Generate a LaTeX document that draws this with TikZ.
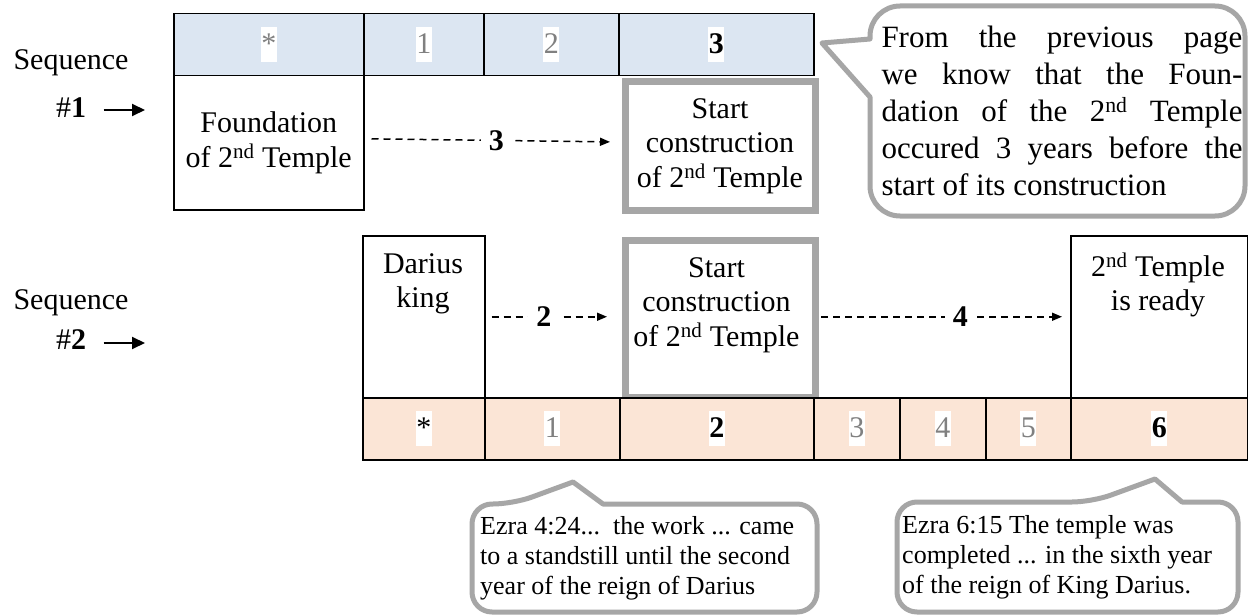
\documentclass[tikz,border=0pt]{standalone}
\usepackage{fontspec}
\setmainfont{Liberation Serif}
\usetikzlibrary{arrows.meta}
\definecolor{hdrblue}{HTML}{DCE6F2}
\definecolor{hdrpeach}{HTML}{FBE5D6}
\definecolor{boxgray}{HTML}{A6A6A6}
\definecolor{numgray}{HTML}{808080}
\newcommand\mfont{\fontsize{30}{34.5}\selectfont}
\newcommand\cfont{\fontsize{31}{37}\selectfont}
\newcommand\sfont{\fontsize{26}{30}\selectfont}
\tikzset{
  tcell/.style={draw=black, line width=1.5pt, fill=hdrblue, inner sep=0pt, anchor=north west},
  bcell/.style={draw=black, line width=1.5pt, fill=hdrpeach, inner sep=0pt, anchor=north west},
  num/.style={fill=white, inner xsep=0.5pt, inner ysep=1pt, text height=25pt, text depth=8pt, font=\mfont},
  numg/.style={num, text=numgray},
  numk/.style={num, text=black},
  numb/.style={num, font=\mfont\bfseries},
  wbox/.style={draw=black, line width=1.5pt, fill=white, inner sep=0pt, anchor=north west},
  gbox/.style={draw=boxgray, line width=7pt, fill=white, inner sep=0pt, anchor=north west},
  txt/.style={align=center, font=\mfont, inner sep=0pt},
  darr/.style={dash pattern=on 7pt off 5pt, line width=1.5pt, -{Triangle[length=10pt,width=8pt]}},
  glbl/.style={fill=white, inner xsep=8pt, inner ysep=3pt, font=\mfont\bfseries},
  seqarr/.style={line width=2pt, -{Triangle[length=13pt,width=12pt]}},
  callout/.style={draw=boxgray, line width=5pt, fill=white, line join=round},
}
\begin{document}
\begin{tikzpicture}[x=1pt,y=-1pt]
\useasboundingbox (0,0) rectangle (1248,615);
\clip (0,0) rectangle (1248,615);
\fill[white] (0,0) rectangle (1248,615);

% sequence labels
\node[font=\mfont] (sq1) at (71,63) {Sequence};
\node[font=\mfont] (n1) at (71,108) {\#\textbf{1}};
\coordinate (a1) at (145,110);
\draw[seqarr, shorten <=14pt] (n1.east |- a1) -- (a1);
\node[font=\mfont] (sq2) at (71,303) {Sequence};
\node[font=\mfont] (n2) at (71,340) {\#\textbf{2}};
\coordinate (a2) at (145,343);
\draw[seqarr, shorten <=14pt] (n2.east |- a2) -- (a2);

% sequence 1 boxes
\node[wbox, minimum width=190pt, minimum height=134pt] (found) at (173,75) {};
\node[txt] at (found.center) {Foundation\\of 2\textsuperscript{nd} Temple};
\node[gbox, minimum width=190pt, minimum height=128pt] (sc1) at (621.5,78.5) {};
\node[txt] at (sc1.center) {Start\\construction\\of 2\textsuperscript{nd} Temple};

% top table
\node[tcell, minimum width=190pt, minimum height=62pt] (t0) at (173,13) {};
\node[tcell, minimum width=120pt, minimum height=62pt] (t1) at (363,13) {};
\node[tcell, minimum width=135pt, minimum height=62pt] (t2) at (483,13) {};
\node[tcell, minimum width=195pt, minimum height=62pt] (t3) at (618,13) {};
\node[numg] at (t0.center) {*};
\node[numg] at (t1.center) {1};
\node[numg] at (t2.center) {2};
\node[numb] at (t3.center) {3};

\draw[darr, shorten <=7pt, shorten >=8pt] ([yshift=4pt]found.east) -- node[glbl, pos=0.52] {3} ([yshift=4pt]sc1.west -| 618,0);

% sequence 2 boxes
\node[wbox, minimum width=122pt, minimum height=162pt] (dar) at (362,235) {};
\node[txt] at (423,284) {Darius\\king};
\node[gbox, minimum width=190pt, minimum height=157pt] (sc2) at (621.5,236.5) {};
\node[txt] at (716.5,305) {Start\\construction\\of 2\textsuperscript{nd} Temple};
\node[wbox, minimum width=177pt, minimum height=162pt] (rdy) at (1070,235) {};
\node[txt] at (1158,285) {2\textsuperscript{nd} Temple\\is ready};

\draw[darr, shorten <=6pt, shorten >=11pt] (dar.east) -- node[glbl, pos=0.44] {2} (dar.east -| 618,0);
\draw[darr, shorten <=6pt, shorten >=8pt] (dar.east -| 815,0) -- node[glbl, pos=0.57] {4} (rdy.west);

% bottom table
\node[bcell, minimum width=122pt, minimum height=62pt] (b0) at (362,397) {};
\node[bcell, minimum width=135pt, minimum height=62pt] (b1) at (484,397) {};
\node[bcell, minimum width=194pt, minimum height=62pt] (b2) at (619,397) {};
\node[bcell, minimum width=86pt, minimum height=62pt] (b3) at (813,397) {};
\node[bcell, minimum width=86pt, minimum height=62pt] (b4) at (899,397) {};
\node[bcell, minimum width=85pt, minimum height=62pt] (b5) at (985,397) {};
\node[bcell, minimum width=177pt, minimum height=62pt] (b6) at (1070,397) {};
\node[numk] at (b0.center) {*};
\node[numg] at (b1.center) {1};
\node[numb] at (b2.center) {2};
\node[numg] at (b3.center) {3};
\node[numg] at (b4.center) {4};
\node[numg] at (b5.center) {5};
\node[numb] at (b6.center) {6};

% top callout
\draw[callout] (822,43) -- (870,39) [rounded corners=30pt] -- (870,6) -- (1245,6) -- (1245,216) -- (870,216) [sharp corners] -- (870,97) -- cycle;
\node[font=\cfont, align=left, inner sep=0pt] (ct) at (1062,111) {%
\makebox[361pt][s]{From the previous page}\\
\makebox[361pt][s]{we know that the Foun-}\\
\makebox[361pt][s]{dation of the 2\textsuperscript{nd} Temple}\\
\makebox[361pt][s]{occured 3 years before the}\\
\makebox[361pt][l]{start of its construction}};

% bottom callouts
\draw[callout] (600,612) [rounded corners=20pt] -- (472,612) -- (472,504) -- (513,504) [sharp corners] -- (573,482) -- (603,504) [rounded corners=20pt] -- (817,504) -- (817,612) -- cycle;
\node[font=\sfont, align=left, inner sep=0pt, anchor=west] (cl) at (480,558) {Ezra 4:24...\ \ the work ... came\\to a standstill until the second\\year of the reign of Darius};
\draw[callout] (1000,612) [rounded corners=20pt] -- (897,612) -- (897,502) -- (1092,502) [sharp corners] -- (1155,479) -- (1182,502) [rounded corners=20pt] -- (1238,502) -- (1238,612) -- cycle;
\node[font=\sfont, align=left, inner sep=0pt, anchor=west] (cr) at (902,557) {Ezra 6:15 The temple was\\completed ... in the sixth year\\of the reign of King Darius.};
\end{tikzpicture}
\end{document}
